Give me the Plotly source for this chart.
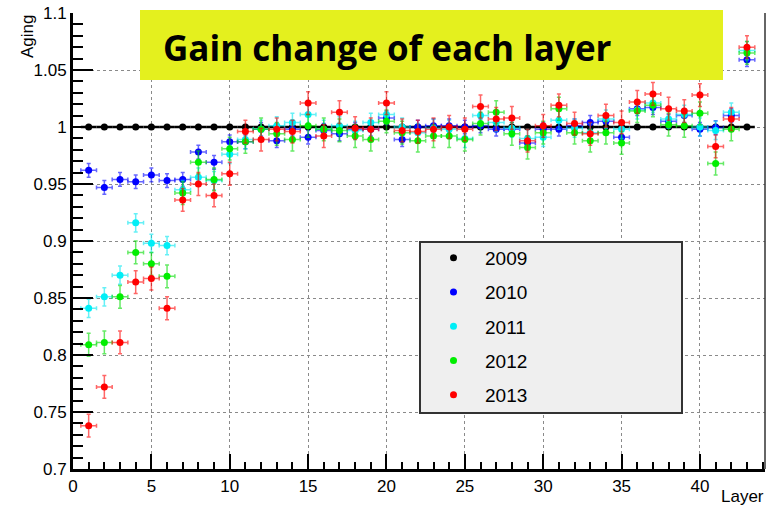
import plotly.graph_objects as go

# Layer index (1..43)
layers = list(range(1, 44))

# Relative gain per layer, one list per year
aging_2009 = [1.0] * 43
aging_2010 = [0.962, 0.947, 0.954, 0.952, 0.958, 0.953, 0.954, 0.978, 0.969, 0.987,
              0.987, 0.998, 0.988, 0.998, 0.991, 0.997, 0.994, 0.998, 0.998, 1.008,
              0.989, 1.000, 1.001, 1.001, 1.000, 1.001, 0.998, 0.998, 0.986, 0.998,
              0.998, 1.001, 1.004, 1.005, 0.991, 1.016, 1.017, 1.005, 1.010, 0.998,
              0.9995, 1.010, 1.059]
aging_2011 = [0.841, 0.851, 0.870, 0.916, 0.898, 0.896, 0.945, 0.956, 0.953, 0.976,
              0.989, 0.998, 1.001, 1.004, 1.011, 0.998, 1.001, 0.997, 1.004, 1.011,
              1.000, 0.995, 0.999, 0.998, 0.990, 1.010, 1.004, 0.999, 0.990, 0.991,
              1.006, 0.999, 0.995, 1.007, 0.998, 1.015, 1.021, 1.007, 1.011, 1.000,
              0.997, 1.013, 1.067]
aging_2012 = [0.809, 0.811, 0.851, 0.890, 0.880, 0.869, 0.942, 0.969, 0.954, 0.981,
              0.987, 0.998, 0.994, 0.989, 1.001, 0.998, 0.997, 0.992, 0.989, 1.005,
              0.995, 0.988, 0.992, 0.992, 0.989, 1.003, 1.013, 0.994, 0.982, 0.995,
              1.016, 0.995, 0.988, 0.995, 0.986, 1.014, 1.019, 1.002, 1.001, 1.012,
              0.968, 0.998, 1.065]
aging_2013 = [0.738, 0.772, 0.811, 0.864, 0.867, 0.841, 0.936, 0.950, 0.940, 0.959,
              0.996, 0.989, 0.998, 0.996, 1.021, 0.992, 1.013, 0.999, 0.998, 1.021,
              0.997, 0.996, 0.998, 1.000, 0.998, 1.018, 1.007, 1.008, 0.988, 1.001,
              1.019, 1.003, 0.994, 1.010, 1.004, 1.022, 1.029, 1.016, 1.014, 1.028,
              0.983, 1.007, 1.070]

# Uncertainty per year (y) and half bin width (x)
y_err = {"2009": 0.0, "2010": 0.006, "2011": 0.008, "2012": 0.010, "2013": 0.010}
x_half = 0.5

years = ["2009", "2010", "2011", "2012", "2013"]
values = [aging_2009, aging_2010, aging_2011, aging_2012, aging_2013]
colors = ["#000000", "#0000FF", "#00EEF6", "#00EE00", "#FF0000"]
bar_colors = ["#000000", "rgba(0,0,255,0.6)", "rgba(0,230,240,0.6)",
              "rgba(0,220,0,0.6)", "rgba(255,0,0,0.6)"]

fig = go.Figure()
for yr, vals, c, bc in zip(years, values, colors, bar_colors):
    is_ref = yr == "2009"
    fig.add_trace(go.Scatter(
        x=layers, y=vals, mode="markers", name=yr, legendgroup=yr,
        marker=dict(color=c, size=7),
        error_x=dict(type="constant", value=x_half, color=bc,
                     thickness=2.5 if is_ref else 1.5, width=0 if is_ref else 2),
        error_y=dict(type="constant", value=y_err[yr], color=bc,
                     thickness=1.5, width=2, visible=not is_ref),
    ))

axis_font = dict(family="Liberation Sans, Arial, sans-serif", size=17, color="#000000")

fig.update_xaxes(
    range=[0, 44.15], showgrid=True, gridcolor="#8a8a8a", griddash="dot", gridwidth=1,
    tick0=0, dtick=5, ticks="inside", ticklen=15, tickwidth=2, tickcolor="#000000",
    minor=dict(dtick=1, ticks="inside", ticklen=7, tickwidth=1.5, tickcolor="#000000",
               showgrid=False),
    showline=True, linecolor="#000000", linewidth=3, zeroline=False,
    tickfont=axis_font,
)
fig.update_yaxes(
    range=[0.7, 1.1], showgrid=True, gridcolor="#8a8a8a", griddash="dot", gridwidth=1,
    tick0=0.7, dtick=0.05, ticks="inside", ticklen=20, tickwidth=2, tickcolor="#000000",
    minor=dict(dtick=0.01, ticks="inside", ticklen=10, tickwidth=1.5, tickcolor="#000000",
               showgrid=False),
    showline=True, linecolor="#000000", linewidth=3, zeroline=False,
    tickfont=axis_font,
)

plot_w = 769 - 73 - 4
plot_h = 508 - 13 - 39

def px(xp):
    return (xp - 73) / plot_w

def py(yp):
    return (508 - 39 - yp) / plot_h

shapes = [
    # right frame edge
    dict(type="line", xref="paper", yref="paper", x0=1, x1=1, y0=0, y1=1,
         line=dict(color="#333333", width=1.5)),
    # legend panel
    dict(type="rect", xref="paper", yref="paper", layer="above",
         x0=px(420), x1=px(682), y0=py(413), y1=py(242),
         fillcolor="#EFEFEF", line=dict(color="#333333", width=2)),
    # title banner
    dict(type="rect", xref="paper", yref="paper", layer="above",
         x0=px(140), x1=px(723), y0=py(80), y1=py(10),
         fillcolor="#E4F01E", line=dict(width=0)),
]

annotations = [
    dict(text="<b>Gain change of each layer</b>", xref="paper", yref="paper",
         x=px(161), y=py(47), xanchor="left", yanchor="middle", showarrow=False,
         font=dict(family="Open Sans, sans-serif", size=35, color="#000000")),
    dict(text="Aging", xref="paper", yref="paper", x=px(16), y=py(13),
         xanchor="left", yanchor="top", textangle=-90, showarrow=False,
         font=dict(family="Liberation Sans, Arial, sans-serif", size=17, color="#000000")),
    dict(text="Layer", xref="paper", yref="paper", x=px(766), y=py(485),
         xanchor="right", yanchor="top", showarrow=False,
         font=dict(family="Liberation Sans, Arial, sans-serif", size=17, color="#000000")),
]

fig.update_layout(
    width=769, height=508,
    margin=dict(l=73, r=4, t=13, b=39),
    paper_bgcolor="#FFFFFF", plot_bgcolor="#FFFFFF",
    shapes=shapes, annotations=annotations,
    showlegend=True,
    legend=dict(x=px(422), y=py(239), xanchor="left", yanchor="top",
                bgcolor="rgba(0,0,0,0)", borderwidth=0, tracegroupgap=6.5,
                itemwidth=53,
                font=dict(family="Liberation Sans, Arial, sans-serif", size=19,
                          color="#000000")),
)

fig.write_html("out.html")
